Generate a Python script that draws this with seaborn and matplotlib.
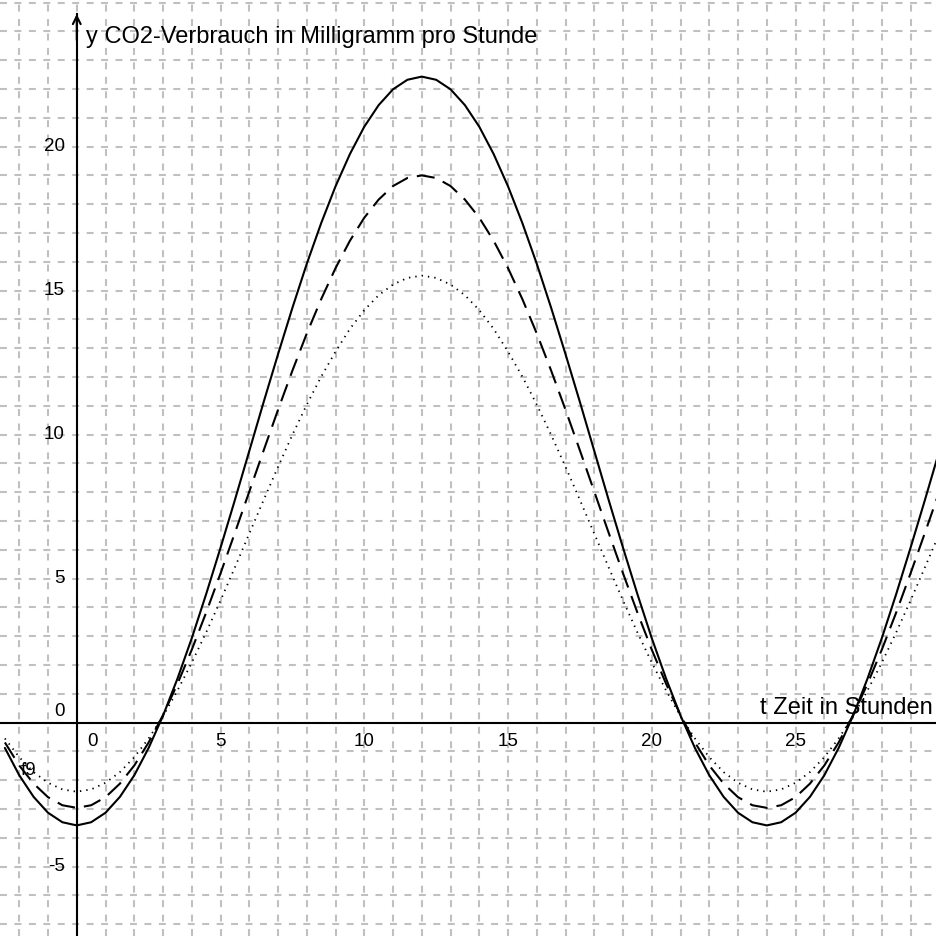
import matplotlib
matplotlib.use("Agg")
import matplotlib.pyplot as plt
import seaborn as sns
import pandas as pd
from matplotlib.ticker import MultipleLocator

# hours (t) sampled every half hour
stunden = [-2.5, -2.0, -1.5, -1.0, -0.5, 0.0, 0.5, 1.0, 1.5, 2.0, 2.5, 3.0, 3.5,
           4.0, 4.5, 5.0, 5.5, 6.0, 6.5, 7.0, 7.5, 8.0, 8.5, 9.0, 9.5, 10.0,
           10.5, 11.0, 11.5, 12.0, 12.5, 13.0, 13.5, 14.0, 14.5, 15.0, 15.5,
           16.0, 16.5, 17.0, 17.5, 18.0, 18.5, 19.0, 19.5, 20.0, 20.5, 21.0,
           21.5, 22.0, 22.5, 23.0, 23.5, 24.0, 24.5, 25.0, 25.5, 26.0, 26.5,
           27.0, 27.5, 28.0, 28.5, 29.0, 29.5, 30.0]

# CO2 consumption, solid curve
co2_solid = [-0.88, -1.83, -2.58, -3.13, -3.46,
             -3.57, -3.46, -3.13, -2.58, -1.83, -0.88, 0.24, 1.52, 2.93, 4.46,
             6.07, 7.73, 9.43, 11.13, 12.79, 14.40, 15.93, 17.34, 18.62, 19.74,
             20.69, 21.44, 21.99, 22.32, 22.43,
             22.32, 21.99, 21.44, 20.69, 19.74, 18.62, 17.34, 15.93, 14.40, 12.79,
             11.13, 9.43, 7.73, 6.07, 4.46, 2.93, 1.52, 0.24, -0.88, -1.83,
             -2.58, -3.13, -3.46, -3.57,
             -3.46, -3.13, -2.58, -1.83, -0.88, 0.24, 1.52, 2.93, 4.46, 6.07,
             7.73, 9.43]

# dashed curve
co2_dashed = [-0.69, -1.49, -2.12, -2.59, -2.87,
              -2.96, -2.87, -2.59, -2.12, -1.49, -0.69, 0.26, 1.34, 2.53, 3.82,
              5.18, 6.59, 8.02, 9.45, 10.86, 12.22, 13.51, 14.70, 15.78, 16.73,
              17.53, 18.16, 18.63, 18.91, 19.00,
              18.91, 18.63, 18.16, 17.53, 16.73, 15.78, 14.70, 13.51, 12.22, 10.86,
              9.45, 8.02, 6.59, 5.18, 3.82, 2.53, 1.34, 0.26, -0.69, -1.49,
              -2.12, -2.59, -2.87, -2.96,
              -2.87, -2.59, -2.12, -1.49, -0.69, 0.26, 1.34, 2.53, 3.82, 5.18,
              6.59, 8.02]

# dotted curve
co2_dotted = [-0.55, -1.20, -1.72, -2.09, -2.32,
              -2.40, -2.32, -2.09, -1.72, -1.20, -0.55, 0.22, 1.11, 2.08, 3.13,
              4.24, 5.39, 6.56, 7.73, 8.88, 9.99, 11.04, 12.01, 12.88, 13.67,
              14.32, 14.84, 15.21, 15.44, 15.52,
              15.44, 15.21, 14.84, 14.32, 13.67, 12.88, 12.01, 11.04, 9.99, 8.88,
              7.73, 6.56, 5.39, 4.24, 3.13, 2.08, 1.11, 0.22, -0.55, -1.20,
              -1.72, -2.09, -2.32, -2.40,
              -2.32, -2.09, -1.72, -1.20, -0.55, 0.22, 1.11, 2.08, 3.13, 4.24,
              5.39, 6.56]

x_ticks = [0, 5, 10, 15, 20, 25]
y_ticks = [-5, 0, 5, 10, 15, 20]

y_title = "y CO2-Verbrauch in Milligramm pro Stunde"
x_title = "t Zeit in Stunden"
curve_name = "f9"

sns.set_style("white")
plt.rcParams["font.family"] = ["Liberation Sans", "DejaVu Sans"]
plt.rcParams["lines.scale_dashes"] = False
plt.rcParams["text.color"] = "black"

df = pd.DataFrame({"t": stunden, "solid": co2_solid,
                   "dashed": co2_dashed, "dotted": co2_dotted})

fig = plt.figure(figsize=(9.37, 9.36), dpi=100)
ax = fig.add_axes([0, 0, 1, 1])
ax.set_xlim(-2.67, 29.92)
ax.set_ylim(-7.41, 25.09)

# grid every unit, dashed light gray
ax.set_xticks(x_ticks)
ax.set_yticks(y_ticks)
ax.xaxis.set_minor_locator(MultipleLocator(1))
ax.yaxis.set_minor_locator(MultipleLocator(1))
ax.grid(True, which="both", color="#c0c0c0", linewidth=1.5,
        linestyle=(0, (5, 5.4)))
ax.set_axisbelow(True)

# axes through origin
for s in ["top", "right"]:
    ax.spines[s].set_visible(False)
for s in ["left", "bottom"]:
    ax.spines[s].set_position(("data", 0))
    ax.spines[s].set_linewidth(1.5)
    ax.spines[s].set_color("black")
ax.spines["left"].set_bounds(-7.41, 24.6)
ax.tick_params(which="major", direction="out", length=5, width=1.5,
               color="black", labelbottom=False, labelleft=False)
ax.tick_params(which="minor", length=0)
ax.annotate("", xy=(0, 24.7), xytext=(0, 23.6),
            arrowprops=dict(arrowstyle="->", lw=1.5, color="black",
                            mutation_scale=14))

sns.lineplot(data=df, x="t", y="solid", color="black", lw=1.5,
             estimator=None, ax=ax)
sns.lineplot(data=df, x="t", y="dashed", color="black", lw=1.5,
             linestyle=(0, (13, 6.5)), estimator=None, ax=ax)
sns.lineplot(data=df, x="t", y="dotted", color="black", lw=1.3,
             linestyle=(0, (1, 3.6)), estimator=None, ax=ax)
ax.set_xlabel("")
ax.set_ylabel("")

# tick labels, GeoGebra style
for xv in x_ticks:
    xpos = 0.53 if xv == 0 else xv
    ax.text(xpos, -0.36, str(xv), ha="center", va="top", fontsize=13.5,
            color="black")
for yv in y_ticks:
    ypos = 0.38 if yv == 0 else yv
    ax.text(-0.41, ypos, str(yv), ha="right", va="center", fontsize=13.5,
            color="black")

ax.text(0.32, 23.6, y_title, ha="left", va="baseline", fontsize=17,
        color="black")
ax.text(29.78, 0.3, x_title, ha="right", va="baseline", fontsize=17,
        color="black")
ax.text(-1.69, -1.68, curve_name, ha="center", va="center", fontsize=13.5,
        color="black")

plt.savefig("out.png", dpi=100)
